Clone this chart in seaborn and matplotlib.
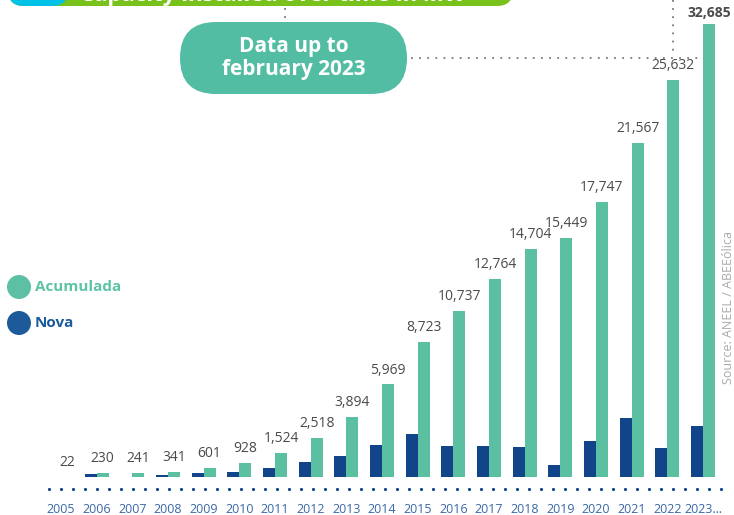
import numpy as np
import pandas as pd
import matplotlib
matplotlib.use("Agg")
import matplotlib.pyplot as plt
import seaborn as sns
from matplotlib.patches import FancyBboxPatch, Circle
from matplotlib.lines import Line2D

# dados (MW)
anos = ["2005", "2006", "2007", "2008", "2009", "2010", "2011", "2012", "2013", "2014",
        "2015", "2016", "2017", "2018", "2019", "2020", "2021", "2022", "2023…"]
acumulada = [22, 230, 241, 341, 601, 928, 1524, 2518, 3894, 5969,
             8723, 10737, 12764, 14704, 15449, 17747, 21567, 25632, 32685]
nova = [22, 208, 11, 100, 260, 327, 596, 994, 1376, 2075,
        2754, 2014, 2027, 1940, 745, 2298, 3820, 1850, 3290]

VERDE = "#5BBFA1"
AZUL = "#12448A"
W, H = 734, 515

df = pd.DataFrame({
    "ano": anos * 2,
    "serie": ["Nova"] * len(anos) + ["Acumulada"] * len(anos),
    "mw": nova + acumulada,
})

sns.set_style("white")
plt.rcParams["font.family"] = ["Open Sans", "DejaVu Sans"]

fig = plt.figure(figsize=(W / 100, H / 100), dpi=100)
base_px, topo_px = 477, 24
ax = fig.add_axes([0, (H - base_px) / H, 1, (base_px - topo_px) / H])

sns.barplot(data=df, x="ano", y="mw", hue="serie", hue_order=["Nova", "Acumulada"],
            palette={"Nova": AZUL, "Acumulada": VERDE}, width=0.67, gap=0,
            saturation=1, errorbar=None, legend=False, linewidth=0, ax=ax)

# escala: ~0.0155 px por MW, ultima barra cortada no topo
ytop = (base_px - topo_px) / 0.0155
ax.set_ylim(0, ytop)
ax.set_xlim(-61 / 35.67, (W - 61) / 35.67)
sns.despine(ax=ax, left=True, bottom=True)
ax.set_yticks([])
ax.set_xlabel("")
ax.set_ylabel("")
ax.tick_params(axis="x", length=0, pad=19, labelsize=9, labelcolor="#3A68A6")

labels = [f"{v:,}" for v in acumulada[:-1]] + [""]
ax.bar_label(ax.containers[1], labels=labels, padding=5, fontsize=10, color="#4A4A4A")
ax.text(len(anos) - 1 + 0.167, ytop + 4 / 0.0155, f"{acumulada[-1]:,}", ha="center",
        va="bottom", fontsize=10, fontweight="bold", color="#4A4A4A", clip_on=False)

inch = fig.dpi_scale_trans


def pill(x0, y0, x1, y1, cor, r):
    p = FancyBboxPatch((x0 / 100, (H - y1) / 100), (x1 - x0) / 100, (y1 - y0) / 100,
                       boxstyle=f"round,pad=0,rounding_size={r / 100}",
                       transform=inch, facecolor=cor, edgecolor="none")
    fig.add_artist(p)


# faixa do titulo (cortada no topo, como no original)
pill(8, -40, 513, 6, "#79C21C", 16)
pill(8, -40, 68, 6, "#00C1E6", 16)
fig.text(80 / W, 1 - 1 / H, "Capacity installed over time in MW", color="white",
         fontsize=16, fontweight="bold", va="baseline", ha="left")

# caixa de nota
pill(180, 22, 407, 94, "#52BDA3", 36)
fig.text(293.5 / W, 1 - 58 / H, "Data up to\nfebruary 2023", color="white",
         fontsize=15, fontweight="bold", ha="center", va="center", linespacing=1.15)

cinza = "#7A7A7A"
for xs, ys in [([285, 285], [8, 21]), ([411, 698], [58, 58]), ([673, 673], [0, 56])]:
    fig.add_artist(Line2D([x / 100 for x in xs], [(H - y) / 100 for y in ys],
                          transform=inch, color=cinza, lw=1.3, ls=(0, (1, 3.5))))

# linha pontilhada do eixo
xs = np.arange(49, 722, 12)
fig.add_artist(Line2D(xs / 100, np.full(len(xs), (H - 489) / 100), transform=inch,
                      ls="none", marker="o", ms=2.3, color=AZUL, mec="none"))

# legenda
for yc, nome, cor, ct in [(287, "Acumulada", "#5DBFA3", "#5DC3A6"),
                          (323, "Nova", "#1D5A9A", "#1A5B9C")]:
    fig.add_artist(Circle((19 / 100, (H - yc) / 100), 12 / 100, transform=inch,
                          facecolor=cor, edgecolor="none"))
    fig.text(35 / W, 1 - yc / H, nome, color=ct, fontsize=11, fontweight="bold",
             va="center", ha="left")

fig.text(729 / W, 1 - 308 / H, "Source: ANEEL / ABEEólica", rotation=90,
         color="#AAAAAA", fontsize=9, ha="center", va="center")

fig.savefig("out.png", dpi=100)
